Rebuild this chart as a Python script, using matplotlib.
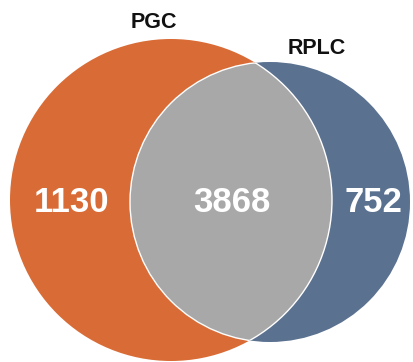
import matplotlib
matplotlib.use("Agg")
import matplotlib.pyplot as plt
from matplotlib.patches import Circle

set_names = ["PGC", "RPLC"]
region_labels = ["1130", "3868", "752"]  # PGC only, both, RPLC only
colors = ["#D96C36", "#A8A8A8", "#5A7190"]

fig = plt.figure(figsize=(4.14, 3.62), dpi=100)
ax = fig.add_axes([0, 0, 1, 1])
ax.set_xlim(0, 414)
ax.set_ylim(362, 0)
ax.set_aspect("equal")
ax.axis("off")

left_c, left_r = (171, 200), 161
right_c, right_r = (270, 202), 140

c1 = Circle(left_c, left_r, facecolor=colors[0], edgecolor="none", zorder=1)
c2 = Circle(right_c, right_r, facecolor=colors[2], edgecolor="none", zorder=1)
ax.add_patch(c1)
ax.add_patch(c2)
clip = Circle(left_c, left_r, transform=ax.transData, facecolor="none", edgecolor="none")
ax.add_patch(clip)
mid = Circle(right_c, right_r, facecolor=colors[1], edgecolor="white", linewidth=1.0, zorder=2)
ax.add_patch(mid)
mid.set_clip_path(clip)
edge = Circle(left_c, left_r, facecolor="none", edgecolor="white", linewidth=1.0, zorder=3)
ax.add_patch(edge)
edge.set_clip_path(Circle(right_c, right_r, transform=ax.transData))

font = "Liberation Sans"
ax.text(154, 22, set_names[0], ha="center", va="center", fontsize=15.5,
        fontweight="bold", family=font, color="#111111")
ax.text(317, 48, set_names[1], ha="center", va="center", fontsize=15.5,
        fontweight="bold", family=font, color="#111111")

for x, lab in zip([72, 232, 373], region_labels):
    ax.text(x, 202, lab, ha="center", va="center", fontsize=25,
            fontweight="bold", family=font, color="white", zorder=5)

fig.savefig("out.png", dpi=100)
